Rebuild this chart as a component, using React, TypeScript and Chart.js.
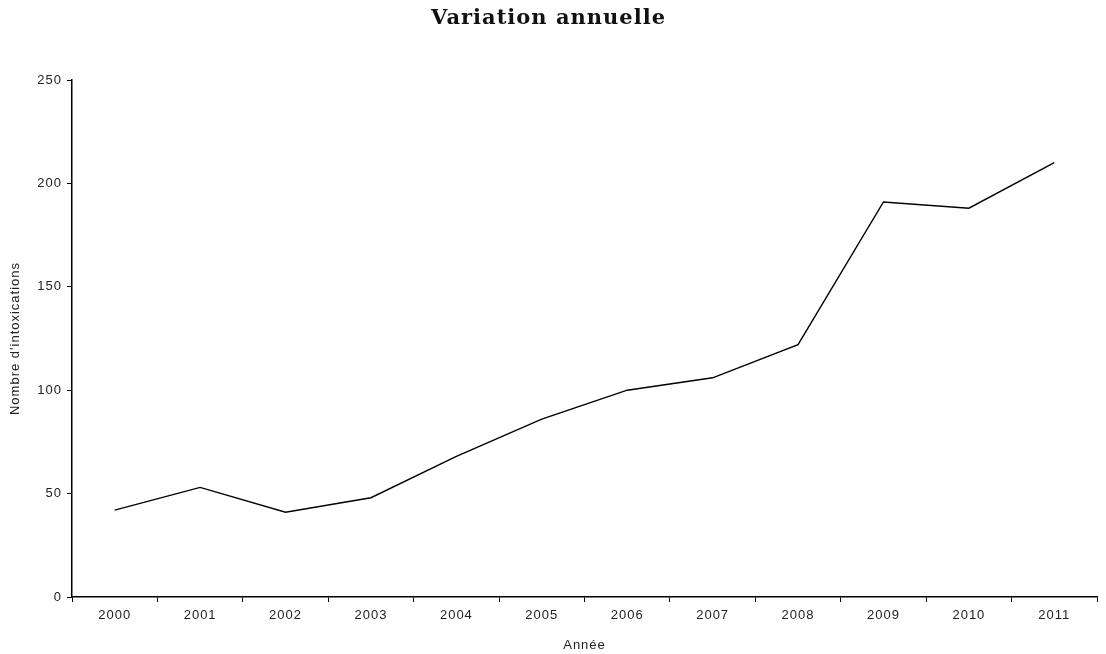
import React, { useEffect, useRef } from "react";
import { Chart, registerables } from "chart.js";

Chart.register(...registerables);

const years = ["2000", "2001", "2002", "2003", "2004", "2005", "2006", "2007", "2008", "2009", "2010", "2011"];
const intoxications = [42, 53, 41, 48, 68, 86, 100, 106, 122, 191, 188, 210];
const titleText = "Variation annuelle";
const xTitle = "Année";
const yTitle = "Nombre d'intoxications";

const spacingPlugin = {
  id: "letterSpacing",
  beforeDraw(chart: any) {
    chart.ctx.letterSpacing = "1px";
  },
  afterDraw(chart: any) {
    chart.ctx.letterSpacing = "0px";
  },
};

export default function App() {
  const ref = useRef<HTMLCanvasElement | null>(null);

  useEffect(() => {
    if (!ref.current) return;
    const tickFont = { family: "'Liberation Sans', Arial, sans-serif", size: 13 };
    const chart = new Chart(ref.current, {
      type: "line",
      data: {
        labels: years,
        datasets: [
          {
            data: intoxications,
            borderColor: "#000",
            borderWidth: 1.4,
            pointRadius: 0,
            tension: 0,
            fill: false,
          },
        ],
      },
      plugins: [spacingPlugin],
      options: {
        animation: false,
        responsive: false,
        layout: { padding: { left: 0, right: 9, top: 0, bottom: 0 } },
        plugins: {
          legend: { display: false },
          tooltip: { enabled: false },
          title: {
            display: true,
            text: titleText,
            color: "#111",
            font: { family: "'DejaVu Serif', serif", size: 21, weight: "bold", lineHeight: 1.2 },
            padding: { top: 6, bottom: 48.8 },
          },
        },
        scales: {
          x: {
            offset: true,
            grid: {
              offset: true,
              drawOnChartArea: false,
              drawTicks: true,
              tickLength: 5,
              color: "#000",
            },
            border: { display: true, color: "#000", width: 1.5 },
            ticks: { color: "#222", font: tickFont, padding: 6, maxRotation: 0, autoSkip: false },
            title: {
              display: true,
              text: xTitle,
              color: "#222",
              font: tickFont,
              padding: { top: 0, bottom: 1 },
            },
            afterFit: (scale: any) => {
              scale.height = 57;
            },
          },
          y: {
            min: 0,
            max: 250,
            ticks: { stepSize: 50, color: "#222", font: tickFont, padding: 5 },
            grid: {
              drawOnChartArea: false,
              drawTicks: true,
              tickLength: 5,
              color: "#000",
            },
            border: { display: true, color: "#000", width: 1.5 },
            title: {
              display: true,
              text: yTitle,
              color: "#222",
              font: tickFont,
              padding: { top: 8, bottom: 0 },
            },
            afterFit: (scale: any) => {
              scale.width = 72;
            },
          },
        },
      },
    });
    return () => chart.destroy();
  }, []);

  return (
    <div style={{ position: "fixed", left: 0, top: 0, width: 1106, height: 654, background: "#fff" }}>
      <canvas ref={ref} width={1106} height={654} style={{ display: "block" }} />
    </div>
  );
}
